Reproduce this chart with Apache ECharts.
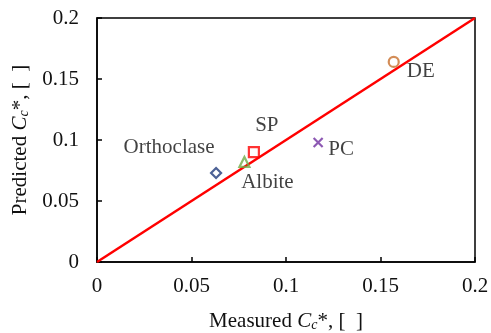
<!DOCTYPE html>
<html><head><meta charset="utf-8">
<script src="https://cdn.jsdelivr.net/npm/echarts@6/dist/echarts.min.js"></script>
<style>html,body{margin:0;padding:0;background:#fff}#c{width:491px;height:333px}</style>
</head><body><div id="c"></div>
<script>
const names = ['Orthoclase','Albite','SP','PC','DE'];
const measured = [0.063, 0.078, 0.083, 0.117, 0.157];
const predicted = [0.073, 0.082, 0.090, 0.098, 0.164];
const symbols = ['diamond','triangle','rect','path://M0,0L10,10M10,0L0,10','circle'];
const colors = ['#1F3A7A','#70AD47','#FF0000','#7030A0','#C8702E'];
const labelOffsets = [[-47,-25],[23,21],[13,-27],[23,7],[27,10]];
const parityLine = [[0,0],[0.2,0.2]];
const ticks = [0,0.05,0.1,0.15,0.2];

const font = 'Liberation Serif, Times New Roman, serif';
const chart = echarts.init(document.getElementById('c'));
const axisCommon = {
  min: 0, max: 0.2, interval: 0.05,
  axisLine: {show: true, lineStyle: {color: '#000', width: 1.5}},
  axisTick: {show: true, inside: true, length: 5, lineStyle: {color: '#000', width: 1.5}},
  splitLine: {show: false},
  axisLabel: {color: '#111', fontFamily: font, fontSize: 21,
    formatter: v => { const t = ticks.find(x => Math.abs(x - v) < 1e-9); return t === undefined ? '' : String(t); }},
  nameLocation: 'middle'
};
const rich = {
  n: {fontFamily: font, fontSize: 21, color: '#111'},
  i: {fontFamily: font, fontSize: 21, fontStyle: 'italic', color: '#111'},
  s: {fontFamily: font, fontSize: 14, fontStyle: 'italic', color: '#111', padding: [8,0,0,0]}
};
const series = [{
  type: 'line', data: parityLine, showSymbol: false, symbol: 'none',
  lineStyle: {color: '#FF0000', width: 2.5}, z: 1, silent: true
}];
names.forEach((n, k) => {
  series.push({
    type: 'scatter', name: n,
    data: [[measured[k], predicted[k]]],
    symbol: symbols[k], symbolSize: k === 3 ? 9 : 10,
    itemStyle: k === 3 ? {color: 'none', borderColor: colors[k], borderWidth: 2.2}
                       : {color: 'rgba(255,255,255,0)', borderColor: colors[k], borderWidth: 2.2},
    label: {show: true, formatter: n, position: 'inside', offset: labelOffsets[k],
      fontFamily: font, fontSize: 21, color: '#111'},
    z: 3
  });
});
chart.setOption({
  animation: false,
  grid: {left: 97, right: 16, top: 18, bottom: 71, show: true, borderColor: '#000', borderWidth: 1.5,
    outerBoundsMode: 'none', containLabel: false},
  xAxis: Object.assign({}, axisCommon, {type: 'value',
    axisLabel: Object.assign({}, axisCommon.axisLabel, {margin: 14}),
    name: '{n|Measured }{i|C}{s|c}{n|*, [  ]}', nameGap: 48,
    nameTextStyle: {rich: rich}}),
  yAxis: Object.assign({}, axisCommon, {type: 'value',
    axisLabel: Object.assign({}, axisCommon.axisLabel, {margin: 18}),
    name: '{n|Predicted }{i|C}{s|c}{n|*, [  ]}', nameGap: 62,
    nameTextStyle: {rich: rich}}),
  series: series
});
</script></body></html>
